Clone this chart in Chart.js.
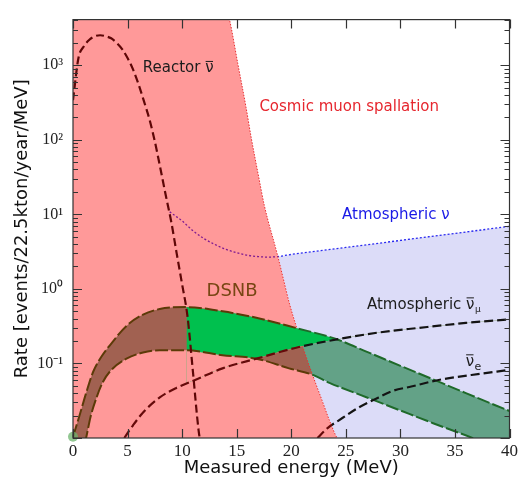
<!DOCTYPE html>
<html>
<head>
<meta charset="utf-8">
<script src="https://cdn.jsdelivr.net/npm/chart.js@4.4.0/dist/chart.umd.min.js"></script>
<style>
  html, body { margin: 0; padding: 0; background: #fff; }
</style>
</head>
<body>
<canvas id="dsnbChart" width="521" height="486"></canvas>
<script>
// values: energy in MeV, rate in events/22.5kton/year/MeV
const reactorE    = [0, 0.5, 1, 1.5, 2, 2.5, 3, 3.5, 4, 4.5, 5, 5.5, 6, 6.5, 7, 7.5, 8, 8.5, 9, 9.5, 10, 10.5, 11, 11.5, 11.8];
const reactorRate = [340, 1250, 1800, 2200, 2450, 2530, 2450, 2300, 2000, 1650, 1250, 880, 560, 330, 190, 95, 42, 18, 8, 3.0, 1.15, 0.42, 0.075, 0.013, 0.007];

const spallE    = [0, 14.0, 14.34, 15.1, 15.86, 16.32, 17.0, 17.53, 18.72, 19.27, 19.82, 20.5, 21.21, 22.0, 22.83, 23.5, 24.2, 25, 40];
const spallRate = [30000, 6000, 4100, 1055, 271, 109, 32.7, 13.2, 2.92, 1.37, 0.646, 0.30, 0.143, 0.067, 0.0317, 0.0172, 0.01, 0.0075, 0.001];

const atmNuE    = [8.86, 10, 11, 12, 13, 14, 15, 16, 17, 18, 19, 20, 25, 30, 35, 40];
const atmNuRate = [10.8, 8.15, 6.03, 4.73, 3.95, 3.40, 3.06, 2.83, 2.71, 2.67, 2.75, 2.9, 3.6, 4.47, 5.56, 6.9];

const dsnbHiE    = [0, 0.64, 1.2, 1.86, 2.6, 3.38, 4.9, 6.42, 7.95, 9, 10.4, 13.7, 16.8, 20.4, 24.1, 27, 30, 33.5, 36, 40];
const dsnbHiRate = [0.0104, 0.021, 0.04, 0.078, 0.123, 0.175, 0.319, 0.453, 0.538, 0.565, 0.57, 0.50, 0.41, 0.30, 0.213, 0.142, 0.093, 0.057, 0.040, 0.023];

const dsnbLoE    = [0, 1.2, 1.6, 2.16, 2.7, 3.38, 4.9, 6.42, 7.95, 10.4, 13.7, 16.8, 19.8, 21.9, 23.5, 27, 30, 33, 36.6, 40];
const dsnbLoRate = [0.002, 0.01, 0.019, 0.035, 0.055, 0.078, 0.116, 0.140, 0.150, 0.150, 0.129, 0.116, 0.086, 0.071, 0.055, 0.0347, 0.0234, 0.0158, 0.01, 0.006];

const numuE    = [4.7, 5.5, 6.42, 7.95, 9.47, 11.3, 13.7, 16.8, 20.7, 24.4, 28, 31.7, 36, 40];
const numuRate = [0.01, 0.0148, 0.022, 0.035, 0.047, 0.061, 0.086, 0.116, 0.166, 0.213, 0.26, 0.30, 0.35, 0.39];

const nueE    = [22.4, 23.3, 24.3, 26.2, 28, 29.25, 31, 33.5, 36.5, 40];
const nueRate = [0.01, 0.0135, 0.017, 0.0257, 0.035, 0.0426, 0.049, 0.06, 0.07, 0.082];

const energyTicks = [0, 5, 10, 15, 20, 25, 30, 35, 40];
const rateTicks = [0.1, 1, 10, 100, 1000];
const rateTickLabels = ['10⁻¹', '10⁰', '10¹', '10²', '10³'];

const SIGNAL_START = 10.4;   // where the reactor curve cuts the DSNB band

const pts = (xs, ys) => xs.map((x, i) => ({ x, y: ys[i] }));
const from = (xs, ys, e0) => pts(xs, ys).filter(p => p.x >= e0);
const NONE = 'rgba(0,0,0,0)';

// stroke colour that changes where a curve leaves the spallation region
function splitStroke(chart, e, inside, outside) {
  const { ctx, chartArea: a, scales } = chart;
  if (!a) return inside;
  const px = scales.x.getPixelForValue(e);
  const t = Math.min(Math.max((px - a.left) / (a.right - a.left), 0), 1);
  const g = ctx.createLinearGradient(a.left, 0, a.right, 0);
  g.addColorStop(0, inside); g.addColorStop(t, inside);
  g.addColorStop(t, outside); g.addColorStop(1, outside);
  return g;
}

const frameTicks = {
  id: 'frameTicks',
  afterDraw(chart) {
    const { ctx, chartArea: a, scales: { x, y } } = chart;
    ctx.save();
    ctx.strokeStyle = '#333';
    ctx.lineWidth = 1.2;
    ctx.strokeRect(a.left, a.top, a.right - a.left, a.bottom - a.top);
    ctx.beginPath();
    energyTicks.forEach(v => {
      const px = Math.round(x.getPixelForValue(v)) + 0.5;
      ctx.moveTo(px, a.bottom); ctx.lineTo(px, a.bottom - 9);
      ctx.moveTo(px, a.top); ctx.lineTo(px, a.top + 9);
    });
    for (let e = -2; e <= 3; e++) {
      for (let m = 1; m <= 9; m++) {
        const v = m * Math.pow(10, e);
        if (v > y.max) break;
        const py = Math.round(y.getPixelForValue(v)) + 0.5;
        const len = m === 1 ? 9 : 5;
        ctx.moveTo(a.left, py); ctx.lineTo(a.left + len, py);
        ctx.moveTo(a.right, py); ctx.lineTo(a.right - len, py);
      }
    }
    ctx.stroke();
    ctx.restore();
  }
};

// text on the plot; "ν" gets a drawn bar for the antineutrino labels
const curveLabels = [
  { text: 'Reactor ', nu: true, e: 6.39, r: 906, color: '#1c1c1c', size: 15 },
  { text: 'Cosmic muon spallation', e: 17.08, r: 271, color: '#e6262e', size: 15 },
  { text: 'Atmospheric ν', e: 24.66, r: 9.8, color: '#1a1ae6', size: 15 },
  { text: 'DSNB', e: 12.24, r: 0.93, color: '#784614', size: 18 },
  { text: 'Atmospheric ', nu: true, sub: 'μ', e: 26.94, r: 0.61, color: '#1c1c1c', size: 15 },
  { text: '', nu: true, sub: 'e', e: 35.98, r: 0.105, color: '#1c1c1c', size: 15 }
];

const textLabels = {
  id: 'textLabels',
  afterDatasetsDraw(chart) {
    const { ctx, scales: { x, y } } = chart;
    ctx.save();
    ctx.textBaseline = 'middle';
    ctx.textAlign = 'left';
    curveLabels.forEach(l => {
      let px = x.getPixelForValue(l.e);
      const py = y.getPixelForValue(l.r);
      ctx.fillStyle = l.color;
      ctx.strokeStyle = l.color;
      ctx.font = l.size + 'px "DejaVu Sans"';
      ctx.fillText(l.text, px, py);
      px += ctx.measureText(l.text).width;
      if (l.nu) {
        const w = ctx.measureText('ν').width;
        ctx.fillText('ν', px, py);
        ctx.lineWidth = 1;
        ctx.beginPath();
        ctx.moveTo(px + 0.5, py - 0.47 * l.size);
        ctx.lineTo(px + w - 0.5, py - 0.47 * l.size);
        ctx.stroke();
        px += w;
      }
      if (l.sub) {
        const s = l.sub === 'μ' ? 9 : 11;
        ctx.font = s + 'px "DejaVu Sans"';
        ctx.fillText(l.sub, px + 0.5, py + 5);
      }
    });
    ctx.restore();
  }
};

new Chart(document.getElementById('dsnbChart'), {
  type: 'line',
  data: {
    datasets: [
      { // 0 reactor antineutrinos
        data: pts(reactorE, reactorRate), borderColor: '#5e0606', borderWidth: 2.2,
        borderDash: [8, 4], fill: false, order: 1
      },
      { // 1 atmospheric anti-nu_mu
        data: pts(numuE, numuRate), borderWidth: 2.2, borderDash: [9, 4], fill: false, order: 1,
        borderColor: c => splitStroke(c.chart, 21.1, '#660a0a', '#141414')
      },
      { // 2 atmospheric anti-nu_e
        data: pts(nueE, nueRate), borderWidth: 2.2, borderDash: [9, 4], fill: false, order: 1,
        borderColor: c => splitStroke(c.chart, 23.7, '#660a0a', '#141414')
      },
      { // 3 DSNB upper edge
        data: pts(dsnbHiE, dsnbHiRate), borderWidth: 2, borderDash: [13, 3], fill: false, order: 1,
        borderColor: c => splitStroke(c.chart, 20.5, '#5c3a08', '#1f6a2a'),
        pointRadius: c => c.dataIndex === 0 ? 5 : 0,
        pointBackgroundColor: 'rgba(110,180,110,0.75)', pointBorderWidth: 0, clip: 8
      },
      { // 4 DSNB lower edge
        data: pts(dsnbLoE, dsnbLoRate), borderWidth: 2, borderDash: [13, 3], fill: false, order: 1,
        borderColor: c => splitStroke(c.chart, 21.9, '#5c3a08', '#1f6a2a')
      },
      { // 5 atmospheric nu (NC) background
        data: pts(atmNuE, atmNuRate), borderColor: '#2a2af0', borderWidth: 1.3, borderDash: [2, 2],
        fill: { target: 6, above: '#dcdcf8', below: NONE }, order: 10
      },
      { // 6 cosmic muon spallation
        data: pts(spallE, spallRate), borderColor: '#e83030', borderWidth: 1, borderDash: [1.5, 1.5],
        fill: 'start', backgroundColor: 'rgba(255,0,0,0.4)', order: 8
      },
      { // 7 DSNB band
        data: pts(dsnbHiE, dsnbHiRate), borderWidth: 0, borderColor: NONE,
        fill: { target: 4 }, backgroundColor: '#63a287', order: 9
      },
      { // 8 signal window above the backgrounds
        data: from(dsnbHiE, dsnbHiRate, SIGNAL_START), borderWidth: 0, borderColor: NONE,
        fill: { target: 1, above: '#00c04e', below: NONE }, order: 5
      },
      { // 9 spallation colour below the band edge
        data: from(dsnbLoE, dsnbLoRate, SIGNAL_START), borderWidth: 0, borderColor: NONE,
        fill: { target: 1, above: '#ff9999', below: NONE }, order: 4
      }
    ]
  },
  options: {
    responsive: false,
    animation: false,
    layout: { padding: { top: 10, right: 10, left: 0, bottom: 0 } },
    elements: {
      point: { radius: 0, hoverRadius: 0 },
      line: { cubicInterpolationMode: 'monotone' }
    },
    plugins: { legend: { display: false }, tooltip: { enabled: false } },
    scales: {
      x: {
        type: 'linear', min: 0, max: 40,
        afterBuildTicks: s => { s.ticks = energyTicks.map(v => ({ value: v })); },
        afterFit: s => { s.height = 48; },
        grid: { display: false, drawTicks: false },
        border: { display: false },
        ticks: { font: { family: 'Liberation Serif', size: 17 }, color: '#222', padding: 3, maxRotation: 0, autoSkip: false },
        title: {
          display: true, text: 'Measured energy (MeV)', color: '#111',
          font: { family: 'DejaVu Sans', size: 18 }, padding: { top: 0, bottom: 7 }
        }
      },
      y: {
        type: 'logarithmic', min: 0.01, max: 4100,
        afterBuildTicks: s => { s.ticks = rateTicks.map(v => ({ value: v })); },
        afterFit: s => { s.width = 73; },
        grid: { display: false, drawTicks: false },
        border: { display: false },
        ticks: {
          font: { family: 'Liberation Serif', size: 16 }, color: '#222', padding: 10, autoSkip: false,
          callback: (v, i) => rateTickLabels[i]
        },
        title: {
          display: true, text: 'Rate [events/22.5kton/year/MeV]', color: '#111',
          font: { family: 'DejaVu Sans', size: 18 }, padding: { top: 12, bottom: 0 }
        }
      }
    }
  },
  plugins: [textLabels, frameTicks]
});
</script>
</body>
</html>
